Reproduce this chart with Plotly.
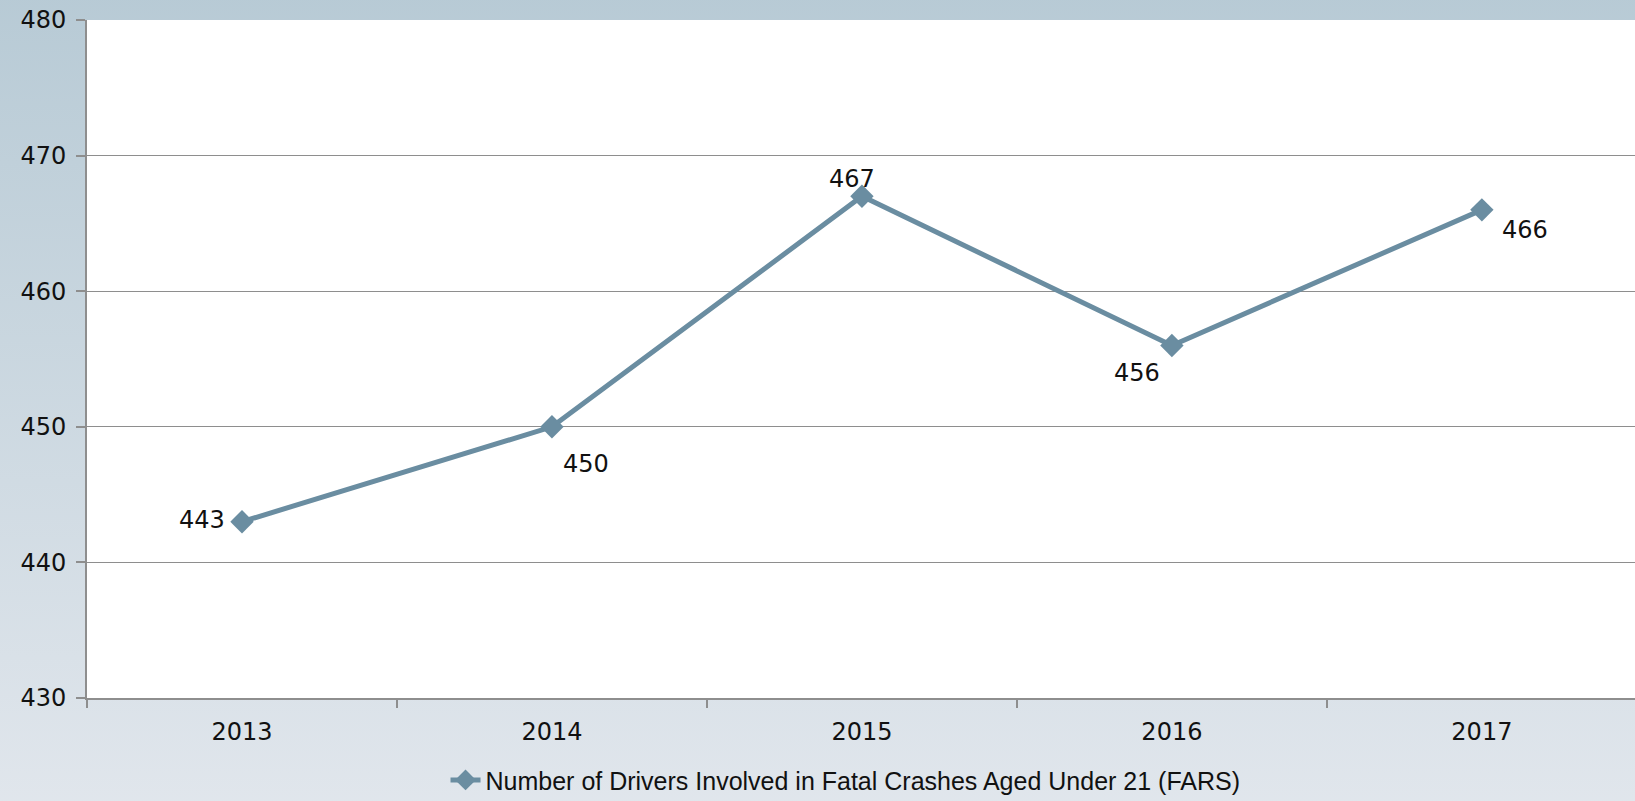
import plotly.graph_objects as go

# data
years = ["2013", "2014", "2015", "2016", "2017"]
drivers = [443, 450, 467, 456, 466]
series_name = "Number of Drivers Involved in Fatal Crashes Aged Under 21 (FARS)"

# pixel offsets of the value labels from their points
lab_dx = [-40, 34, -10, -35, 43]
lab_dy = [2, -37, 17, -28, -20]

line_col = "#6a8da1"
grid_col = "#8e8e8e"
num_font = "DejaVu Sans, Verdana, sans-serif"
leg_font = "Liberation Sans, Arial, sans-serif"

# gradient page background as an inline svg
bg_svg = (
    "data:image/svg+xml;utf8,"
    "<svg xmlns='http://www.w3.org/2000/svg' width='100' height='100' preserveAspectRatio='none'>"
    "<defs><linearGradient id='g' x1='0' y1='0' x2='0' y2='1'>"
    "<stop offset='0' stop-color='%23b7cad5'/>"
    "<stop offset='1' stop-color='%23e2e7ed'/>"
    "</linearGradient></defs>"
    "<rect width='100' height='100' fill='url(%23g)'/></svg>"
)

fig = go.Figure()
fig.add_trace(go.Scatter(
    x=years, y=drivers, name=series_name,
    mode="lines+markers",
    line=dict(color=line_col, width=5),
    marker=dict(symbol="diamond", size=18, color=line_col),
    cliponaxis=False,
))

# value labels (category axis -> use the category index as x)
for i, v in enumerate(drivers):
    fig.add_annotation(x=i, y=v, text=str(v), showarrow=False,
                       xshift=lab_dx[i], yshift=lab_dy[i],
                       font=dict(size=24, color="#111111", family=num_font))

fig.update_layout(
    width=1635, height=801,
    margin=dict(l=87, r=0, t=20, b=103),
    paper_bgcolor="#d0dbe2",
    plot_bgcolor="white",
    font=dict(family=num_font, size=24, color="#111111"),
    showlegend=True,
    legend=dict(
        orientation="h", x=0.49, xanchor="center",
        yref="container", y=0.026, yanchor="middle",
        bgcolor="rgba(0,0,0,0)",
        font=dict(family=leg_font, size=25, color="#111111"),
    ),
    images=[dict(
        source=bg_svg, xref="paper", yref="paper", x=-0.06, y=1.05,
        sizex=1.1, sizey=1.25, sizing="stretch", layer="below",
        xanchor="left", yanchor="top",
    )],
    shapes=[dict(type="rect", xref="x domain", yref="y domain",
                 x0=0, x1=1, y0=0, y1=1, fillcolor="white",
                 line=dict(width=0), layer="below")],
)

fig.update_xaxes(
    type="category", range=[-0.5, 4.494], automargin=False,
    showgrid=False, showline=True, linecolor=grid_col, linewidth=2,
    ticks="outside", tickcolor=grid_col, ticklen=8, tickwidth=1.5,
    tickson="boundaries", ticklabelstandoff=11,
)
fig.update_yaxes(
    range=[430, 480], dtick=10, automargin=False,
    showgrid=True, gridcolor=grid_col, gridwidth=1.3,
    showline=True, linecolor=grid_col, linewidth=2,
    ticks="outside", tickcolor=grid_col, ticklen=9, tickwidth=1.5,
    zeroline=False, ticklabelstandoff=5,
)

fig.write_html("out.html", config={"displayModeBar": False},
               post_script="document.body.style.margin='0';")
